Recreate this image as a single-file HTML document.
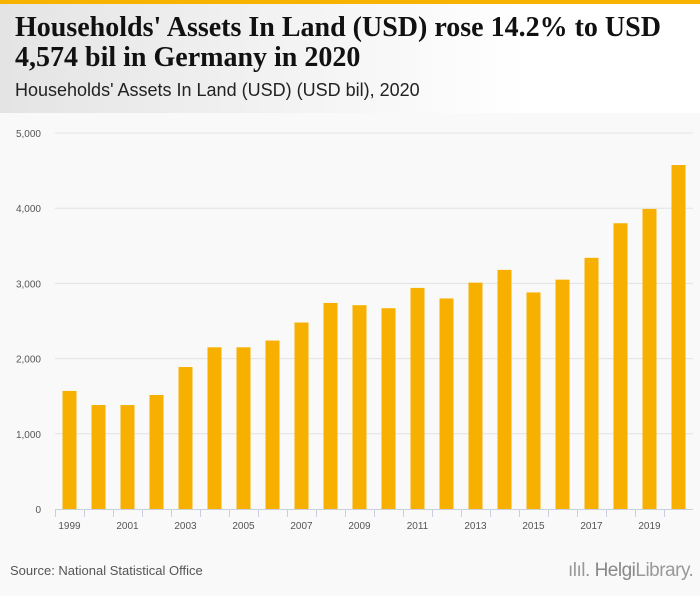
<!DOCTYPE html>
<html><head><meta charset="utf-8"><style>
body{margin:0;width:700px;height:596px;background:#f9f9f9;font-family:"Liberation Sans",sans-serif;overflow:hidden;position:relative}
#topbar{position:absolute;left:0;top:0;width:700px;height:4px;background:#f7b300}
#header{position:absolute;left:0;top:4px;width:700px;height:109px;background:linear-gradient(90deg,#e4e4e4,#ffffff 75%)}
#title{position:absolute;left:15px;top:13px;font-family:"Liberation Serif",serif;font-weight:bold;font-size:28px;line-height:30px;color:#111;white-space:nowrap}
#subtitle{position:absolute;left:15px;top:80px;font-size:18px;color:#222}
#source{position:absolute;left:10px;top:563px;font-size:13px;color:#555}
#logo{position:absolute;left:568px;top:560px;font-size:19px;color:#999;white-space:nowrap;letter-spacing:-0.5px}
</style></head><body>
<div id="topbar"></div>
<div id="header"></div>
<div id="title">Households' Assets In Land (USD) rose 14.2% to USD<br>4,574 bil in Germany in 2020</div>
<div id="subtitle">Households' Assets In Land (USD) (USD bil), 2020</div>
<svg id="chart" width="700" height="596" style="position:absolute;left:0;top:0"></svg>
<div id="source">Source: National Statistical Office</div>
<div id="logo">ılıl. <span style="color:#888">Helgi</span>Library.</div>
<script>
const years=["1999","2000","2001","2002","2003","2004","2005","2006","2007","2008","2009","2010","2011","2012","2013","2014","2015","2016","2017","2018","2019","2020"];
const values=[1570,1383,1383,1516,1888,2150,2150,2240,2480,2740,2710,2670,2940,2800,3010,3180,2880,3050,3340,3800,3990,4574];
const yTicks=[0,1000,2000,3000,4000,5000];
const yTickLabels=["0","1,000","2,000","3,000","4,000","5,000"];
const NS="http://www.w3.org/2000/svg";
const svg=document.getElementById('chart');
const x0=55,x1=693,y0=509,yTop=133,maxV=5000;
const band=(x1-x0)/years.length;
const yS=v=>y0-(v/maxV)*(y0-yTop);
const xS=i=>x0+band*i;
function mk(t,a){const e=document.createElementNS(NS,t);for(const k in a)e.setAttribute(k,a[k]);svg.appendChild(e);return e;}
yTicks.forEach((v,i)=>{
  if(v>0){const g=mk('line',{x1:x0,x2:x1,y1:yS(v),y2:yS(v),stroke:'#e2e2e2','stroke-width':1});
  
  }
  const t=mk('text',{x:41,y:yS(v)+4,'text-anchor':'end','font-size':10,fill:'#555','font-family':'Liberation Sans, sans-serif'});
  t.textContent=yTickLabels[i];
  
  
});
values.forEach((v,i)=>{
  const w=14;
  const b=mk('rect',{x:xS(i)+band/2-w/2,y:yS(v),width:w,height:y0-yS(v),fill:'#f8b000'});
  
  
});
const ax=mk('line',{x1:x0,x2:x1,y1:y0+0.5,y2:y0+0.5,stroke:'#c8d0e0'});


years.forEach((y,i)=>{
  const tk=mk('line',{x1:xS(i)+0.5,x2:xS(i)+0.5,y1:y0,y2:y0+8,stroke:'#c8d0e0'});
  
  
  if(i%2===0){
    const t=mk('text',{x:xS(i)+band/2,y:y0+20,'text-anchor':'middle','font-size':10,fill:'#555','font-family':'Liberation Sans, sans-serif'});
    t.textContent=y;
    
    
  }
});
</script>
</body></html>
